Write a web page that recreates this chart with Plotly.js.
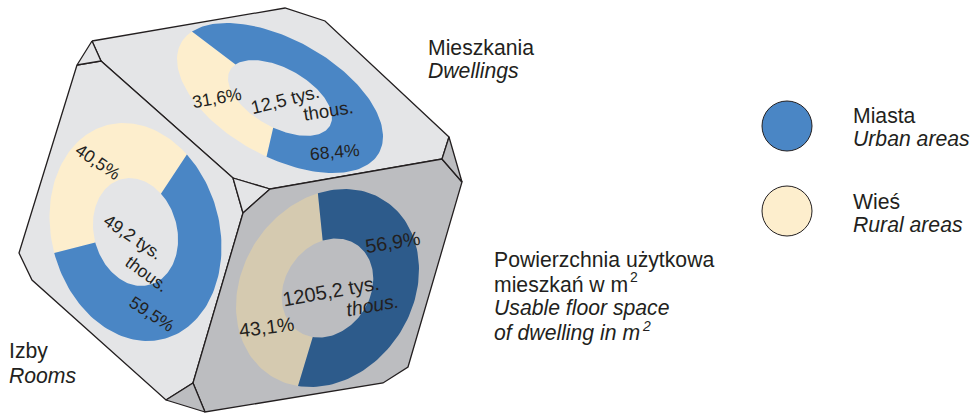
<!DOCTYPE html>
<html><head><meta charset="utf-8">
<script src="https://cdn.plot.ly/plotly-3.0.1.min.js"></script>
<style>html,body{margin:0;padding:0;background:#fff}#c{width:972px;height:414px}</style>
</head><body><div id="c"></div>
<script>
// ---- data ----
const categories = ['Miasta', 'Wieś'];
const categoriesEn = ['Urban areas', 'Rural areas'];
const dwellingsShare = [68.4, 31.6];
const roomsShare = [59.5, 40.5];
const floorSpaceShare = [56.9, 43.1];
const dwellingsLabels = ['68,4%', '31,6%'];
const roomsLabels = ['59,5%', '40,5%'];
const floorSpaceLabels = ['56,9%', '43,1%'];
const dwellingsTotal = '12,5 tys.';
const roomsTotal = '49,2 tys.';
const floorSpaceTotal = '1205,2 tys.';
const thousands = 'thous.';

// ---- drawing geometry (cube faces, pixel-like axis units) ----
const INK = '#231f20', LIGHT = '#e4e5e7', DARK = '#bcbdc0';
const faces = [
  {fill: LIGHT, p: [[92,41],[285,8],[325,21],[449,137],[442,159],[270,189],[233,178],[101,61]]},
  {fill: LIGHT, p: [[77,65],[101,61],[233,178],[243,213],[193,383],[166,400],[32,280],[19,253]]},
  {fill: LIGHT, p: [[92,41],[101,61],[77,65]]},
  {fill: LIGHT, p: [[233,178],[270,189],[243,213]]},
  {fill: DARK,  p: [[243,213],[270,189],[442,159],[462,182],[408,367],[383,383],[205,412],[193,383]]},
  {fill: DARK,  p: [[449,137],[442,159],[462,182]]},
  {fill: DARK,  p: [[166,400],[193,383],[205,412]]}
];
// Each ring is a circle seen through the face's affine projection
const rings = [
  {values: dwellingsShare, cx: 280, cy: 98, rx: 103, ry: 75, phi: 31, k: 0.505, rural0: 97.5, colors: ['#4a86c5', '#fdeecd']},
  {values: roomsShare, cx: 135.5, cy: 232, rx: 86, ry: 109, phi: 8, k: 0.495, rural0: 160.9, colors: ['#4a86c5', '#fdeecd']},
  {values: floorSpaceShare, cx: 327.5, cy: 288, rx: 91.5, ry: 99, phi: -10.7, k: 0.5, rural0: 108.8, colors: ['#2d5b8b', '#d5cab0']}
];

const rad = Math.PI / 180;
function pt(r, t, s) {
  return [r.cx + s * r.rx * Math.cos(t * rad), r.cy + s * r.ry * Math.sin((t + r.phi) * rad)];
}
function slice(r, a, b, color, name, val) {
  const xs = [], ys = [], n = Math.ceil(Math.abs(b - a) / 2);
  for (let i = 0; i <= n; i++) { const q = pt(r, a + (b - a) * i / n, 1); xs.push(q[0]); ys.push(q[1]); }
  for (let i = n; i >= 0; i--) { const q = pt(r, a + (b - a) * i / n, r.k); xs.push(q[0]); ys.push(q[1]); }
  xs.push(xs[0]); ys.push(ys[0]);
  return {type: 'scatter', mode: 'lines', x: xs, y: ys, fill: 'toself', fillcolor: color,
          line: {width: 0, color: color}, name: name, text: val + '%', hoverinfo: 'name+text', showlegend: false};
}

const traces = [];
faces.forEach(f => {
  const xs = f.p.map(q => q[0]).concat(f.p[0][0]);
  const ys = f.p.map(q => q[1]).concat(f.p[0][1]);
  traces.push({type: 'scatter', mode: 'lines', x: xs, y: ys, fill: 'toself', fillcolor: f.fill,
               line: {color: INK, width: 1.3}, hoverinfo: 'skip', showlegend: false});
});
rings.forEach(r => {
  const ruralSpan = r.values[1] * 3.6, urbanSpan = r.values[0] * 3.6;
  traces.push(slice(r, r.rural0, r.rural0 + ruralSpan, r.colors[1], categories[1], r.values[1]));
  traces.push(slice(r, r.rural0 + ruralSpan, r.rural0 + ruralSpan + urbanSpan, r.colors[0], categories[0], r.values[0]));
});
// legend swatches
traces.push({type: 'scatter', mode: 'markers', x: [787, 787], y: [126, 211], text: categories, hoverinfo: 'text', showlegend: false,
  marker: {size: 50, color: ['#4a86c5', '#fdeecd'], line: {color: INK, width: 1}}});

function txt(x, y, text, size, angle, anchor) {
  return {x, y, xref: 'x', yref: 'y', text, showarrow: false, textangle: angle || 0,
          xanchor: anchor || 'center', yanchor: 'middle', align: 'left',
          font: {family: '"Liberation Sans", Arial, sans-serif', size, color: INK}};
}
const S = 21.2, D = 17.5, L = 19.5;
const X1 = 426, X2 = 492, X3 = 851, X4 = 7;
const annotations = [
  txt(X1, 47, 'Mieszkania', S, 0, 'left'),
  txt(X1, 71, '<i>Dwellings</i>', S, 0, 'left'),
  txt(X4, 351, 'Izby', S, 0, 'left'),
  txt(X4, 375, '<i>Rooms</i>', S, 0, 'left'),
  txt(X2, 260, 'Powierzchnia użytkowa', S, 0, 'left'),
  txt(X2, 284, 'mieszkań w m', S, 0, 'left'),
  txt(628, 277, '2', 14, 0, 'left'),
  txt(X2, 308, '<i>Usable floor space</i>', S, 0, 'left'),
  txt(X2, 333, '<i>of dwelling in m</i>', S, 0, 'left'),
  txt(640, 326, '<i>2</i>', 14, 0, 'left'),
  txt(X3, 115, categories[0], S, 0, 'left'),
  txt(X3, 138, '<i>' + categoriesEn[0] + '</i>', S, 0, 'left'),
  txt(X3, 201, categories[1], S, 0, 'left'),
  txt(X3, 224, '<i>' + categoriesEn[1] + '</i>', S, 0, 'left'),
  txt(217, 98, dwellingsLabels[1], D, -10),
  txt(285, 99, dwellingsTotal, 18.5, -14),
  txt(328, 110, thousands, 18.5, -9),
  txt(335, 152, dwellingsLabels[0], D, -5),
  txt(98, 162, roomsLabels[1], D, 34),
  txt(133, 237, roomsTotal, D, 34),
  txt(147, 274, thousands, D, 36),
  txt(152, 314, roomsLabels[0], D, 33),
  txt(392, 242, floorSpaceLabels[0], L, -9),
  txt(331, 291, floorSpaceTotal, 20, -10),
  txt(372, 305, '<i>' + thousands + '</i>', L, -10),
  txt(266, 327, floorSpaceLabels[1], L, -7)
];

const axis = {visible: false, fixedrange: true, showgrid: false, zeroline: false};
Plotly.newPlot('c', traces, {
  width: 972, height: 414, margin: {l: 0, r: 0, t: 0, b: 0}, showlegend: false,
  paper_bgcolor: '#fff', plot_bgcolor: '#fff',
  xaxis: Object.assign({range: [0, 972]}, axis),
  yaxis: Object.assign({range: [414, 0]}, axis),
  annotations
}, {displayModeBar: false});
</script></body></html>
